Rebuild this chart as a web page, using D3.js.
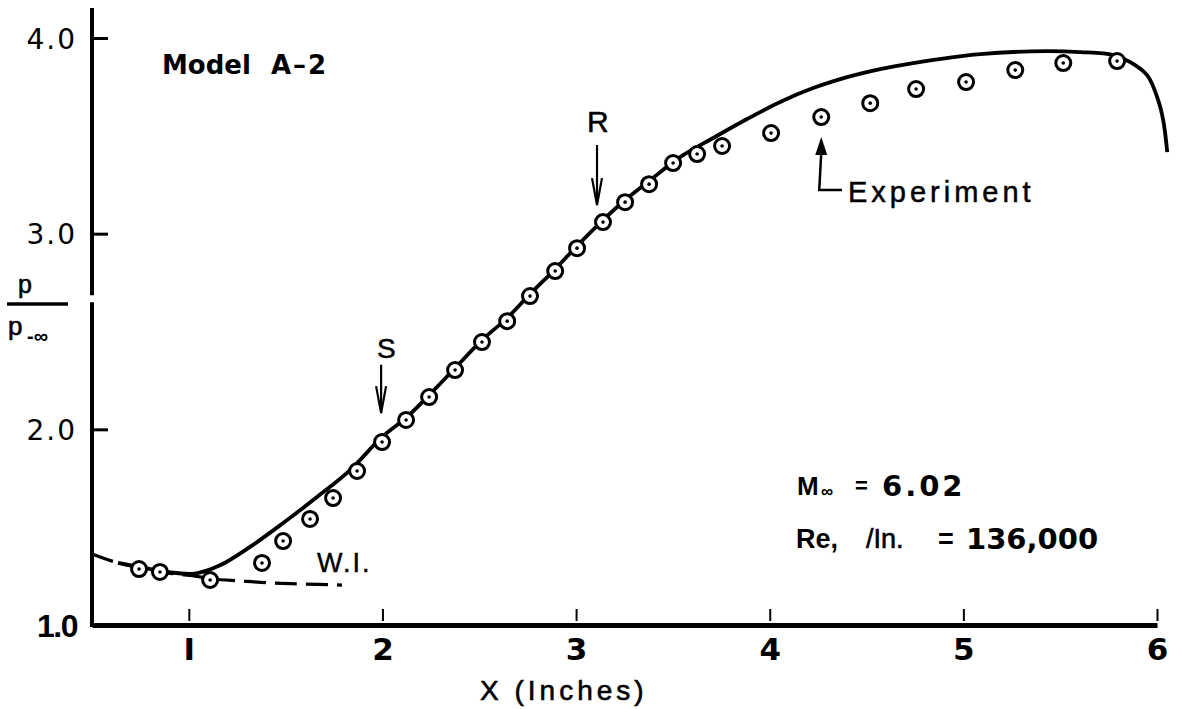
<!DOCTYPE html>
<html>
<head>
<meta charset="utf-8">
<script src="https://cdn.jsdelivr.net/npm/d3@7"></script>
<style>
  body { margin: 0; background: #fff; }
  svg text { fill: #000; }
</style>
</head>
<body>
<div id="chart"></div>
<script>
// experiment points (x in inches, p/p-inf)
var expX = [0.743, 0.851, 1.110, 1.378, 1.487, 1.626, 1.745, 1.869, 1.998, 2.122,
            2.241, 2.375, 2.514, 2.644, 2.762, 2.892, 3.005, 3.139, 3.253, 3.377,
            3.501, 3.625, 3.754, 4.007, 4.266, 4.519, 4.756, 5.014, 5.268, 5.516, 5.794];
var expY = [1.286, 1.271, 1.230, 1.317, 1.429, 1.542, 1.649, 1.787, 1.935, 2.048,
            2.165, 2.303, 2.446, 2.553, 2.681, 2.809, 2.926, 3.059, 3.161, 3.253,
            3.361, 3.407, 3.448, 3.514, 3.596, 3.667, 3.739, 3.775, 3.836, 3.872, 3.882];

// theory (solid curve)
var theoryX = [0.634, 0.748, 0.887, 1.032, 1.161, 1.316, 1.487, 1.662, 1.833,
               1.998, 2.127, 2.241, 2.375, 2.514, 2.644, 2.762, 2.892, 3.005, 3.139,
               3.253, 3.377, 3.537, 3.708, 3.883, 4.054, 4.224, 4.400, 4.570, 4.741,
               5.087, 5.433, 5.603, 5.774, 5.862, 5.949, 6.006, 6.032, 6.053];
var theoryY = [1.317, 1.296, 1.271, 1.263, 1.305, 1.399, 1.521, 1.654, 1.792,
               1.961, 2.063, 2.175, 2.313, 2.456, 2.569, 2.691, 2.819, 2.937, 3.069,
               3.172, 3.269, 3.391, 3.489, 3.586, 3.673, 3.744, 3.800, 3.841, 3.872,
               3.918, 3.933, 3.928, 3.913, 3.877, 3.810, 3.683, 3.580, 3.417];

// W.I. (dashed curve)
var wiX = [0.500, 0.619, 0.748, 0.887, 1.032, 1.125, 1.264, 1.419, 1.574, 1.791];
var wiY = [1.363, 1.322, 1.291, 1.266, 1.250, 1.235, 1.225, 1.215, 1.210, 1.204];

var xTicks = [1, 2, 3, 4, 5, 6];
var xTickLabels = ["I", "2", "3", "4", "5", "6"];
var yTicks = [1, 2, 3, 4];
var yTickLabels = ["1.0", "2.0", "3.0", "4.0"];

var width = 1184, height = 709;

var svg = d3.select("#chart").append("svg")
    .attr("width", width)
    .attr("height", height);

var x = d3.scaleLinear().domain([0.5, 6]).range([92, 1157]);
var y = d3.scaleLinear().domain([1, 4]).range([625, 38]);

var sans = "'Liberation Sans', Arial, sans-serif";
var wide = "'DejaVu Sans', sans-serif";

// x axis
var xAxis = svg.append("g")
    .attr("transform", "translate(0," + y(1) + ")")
    .call(d3.axisBottom(x)
      .tickValues(xTicks)
      .tickSizeInner(-16)
      .tickSizeOuter(0)
      .tickFormat(function(d, i) { return xTickLabels[i]; }));

xAxis.select(".domain").attr("stroke", "#000").attr("stroke-width", 5);
xAxis.selectAll(".tick line")
    .attr("y1", -4)
    .attr("stroke", "#000")
    .attr("stroke-width", 2);
xAxis.selectAll(".tick text")
    .attr("y", 35)
    .attr("dy", 0)
    .style("font-family", wide)
    .style("font-weight", "bold")
    .style("font-size", "31px");

// y axis (domain drawn by hand, it has a break near the label)
var yAxis = svg.append("g")
    .attr("transform", "translate(" + x(0.5) + ",0)")
    .call(d3.axisLeft(y)
      .tickValues(yTicks)
      .tickSizeInner(-16)
      .tickSizeOuter(0)
      .tickPadding(15)
      .tickFormat(function(d, i) { return yTickLabels[i]; }));

yAxis.select(".domain").remove();
yAxis.selectAll(".tick line")
    .attr("stroke", "#000")
    .attr("stroke-width", 3)
    .attr("display", function(d) { return d === 1 ? "none" : null; });
yAxis.selectAll(".tick text")
    .attr("dy", "0.36em")
    .style("font-family", function(d) { return d === 1 ? sans : wide; })
    .style("font-weight", function(d) { return d === 1 ? "bold" : "normal"; })
    .style("font-size", function(d) { return d === 1 ? "32px" : "28px"; })
    .style("letter-spacing", function(d) { return d === 1 ? "-1.5px" : "2px"; });

[[1, 2.65], [2.696, 4.153]].forEach(function(seg) {
  yAxis.append("line")
      .attr("x1", 0).attr("x2", 0)
      .attr("y1", y(seg[0]) + 2).attr("y2", y(seg[1]))
      .attr("stroke", "#000")
      .attr("stroke-width", 4);
});

// curves
var theory = d3.zip(theoryX, theoryY);
var wi = d3.zip(wiX, wiY);

var line = d3.line()
    .x(function(d) { return x(d[0]); })
    .y(function(d) { return y(d[1]); })
    .curve(d3.curveCatmullRom.alpha(0.5));

svg.append("path")
    .datum(wi)
    .attr("d", line)
    .attr("fill", "none")
    .attr("stroke", "#000")
    .attr("stroke-width", 3.2)
    .attr("stroke-dasharray", "22,9");

svg.append("path")
    .datum(theory)
    .attr("d", line)
    .attr("fill", "none")
    .attr("stroke", "#000")
    .attr("stroke-width", 3.8);

// experiment circles
var pts = svg.append("g").selectAll("g")
    .data(d3.zip(expX, expY))
    .enter().append("g")
    .attr("transform", function(d) { return "translate(" + x(d[0]) + "," + y(d[1]) + ")"; });

pts.append("circle")
    .attr("r", 7.5)
    .attr("fill", "#fff")
    .attr("stroke", "#000")
    .attr("stroke-width", 3);

pts.append("circle")
    .attr("r", 1.8)
    .attr("fill", "#000");

// y label p / p-inf
svg.append("text").attr("x", 18).attr("y", 293)
    .style("font-family", sans).style("font-size", "25px").style("stroke", "#000").style("stroke-width", 0.6)
    .text("p");
svg.append("line")
    .attr("x1", 7).attr("x2", 68).attr("y1", 304).attr("y2", 304)
    .attr("stroke", "#000").attr("stroke-width", 3.5);
svg.append("text").attr("x", 8).attr("y", 335)
    .style("font-family", sans).style("font-size", "26px").style("stroke", "#000").style("stroke-width", 0.6)
    .text("p");
svg.append("text").attr("x", 27).attr("y", 343)
    .style("font-family", sans).style("font-weight", "bold").style("font-size", "20px").text("-∞");

// title
svg.append("text").attr("x", 162).attr("y", 74)
    .style("font-family", wide).style("font-weight", "bold").style("font-size", "26px")
    .text("Model")
  .append("tspan").attr("dx", 20).style("letter-spacing", "2px").text("A–2");

// S and R arrows
function downArrow(xv, y0, y1) {
  var g = svg.append("g").attr("stroke", "#000").attr("fill", "none").attr("stroke-width", 2.2);
  g.append("line").attr("x1", x(xv)).attr("x2", x(xv)).attr("y1", y(y0)).attr("y2", y(y1));
  g.append("path")
      .attr("d", "M" + (x(xv) - 5) + "," + (y(y1) - 27) + "L" + x(xv) + "," + y(y1) +
                 "L" + (x(xv) + 5) + "," + (y(y1) - 27));
}

svg.append("text").attr("x", 377).attr("y", 358)
    .style("font-family", sans).style("font-size", "28px").style("stroke", "#000").style("stroke-width", 0.5)
    .text("S");
downArrow(1.993, 2.33, 2.083);

svg.append("text").attr("x", 587).attr("y", 132)
    .style("font-family", sans).style("font-size", "30px").style("stroke", "#000").style("stroke-width", 0.5)
    .text("R");
downArrow(3.108, 3.453, 3.146);

// Experiment leader
var ex = x(expX[24]);
svg.append("path")
    .attr("d", "M" + ex + "," + (y(expY[24]) + 20) + "L" + (ex - 6) + "," + (y(expY[24]) + 38) +
               "L" + (ex + 6) + "," + (y(expY[24]) + 38) + "Z")
    .attr("fill", "#000");
svg.append("path")
    .attr("d", "M" + ex + "," + (y(expY[24]) + 36) + "L" + (ex - 2) + ",190L842,190")
    .attr("fill", "none").attr("stroke", "#000").attr("stroke-width", 2.5);
svg.append("text").attr("x", 848).attr("y", 202)
    .style("font-family", sans).style("font-size", "29px").style("letter-spacing", "4px")
    .style("stroke", "#000").style("stroke-width", 0.5)
    .text("Experiment");

// W.I.
svg.append("text").attr("x", 317).attr("y", 572)
    .style("font-family", sans).style("font-size", "27px").style("letter-spacing", "2px")
    .style("stroke", "#000").style("stroke-width", 0.4)
    .text("W.I.");

// flow conditions
svg.append("text").attr("x", 797).attr("y", 495)
    .style("font-family", sans).style("font-weight", "bold").style("font-size", "26px").text("M");
svg.append("text").attr("x", 821).attr("y", 497)
    .style("font-family", sans).style("font-weight", "bold").style("font-size", "17px").text("∞");
svg.append("text").attr("x", 855).attr("y", 493)
    .style("font-family", sans).style("font-weight", "bold").style("font-size", "22px").text("=");
svg.append("text").attr("x", 882).attr("y", 496)
    .style("font-family", wide).style("font-weight", "bold").style("font-size", "29px")
    .style("letter-spacing", "3px").text("6.02");

svg.append("text").attr("x", 796).attr("y", 548)
    .style("font-family", sans).style("font-weight", "bold").style("font-size", "27px").text("Re,");
svg.append("text").attr("x", 866).attr("y", 548)
    .style("font-family", sans).style("font-size", "27px").style("stroke", "#000").style("stroke-width", 0.6)
    .text("/In.");
svg.append("text").attr("x", 938).attr("y", 548)
    .style("font-family", sans).style("font-weight", "bold").style("font-size", "27px").text("=");
svg.append("text").attr("x", 966).attr("y", 549)
    .style("font-family", wide).style("font-weight", "bold").style("font-size", "29px").text("136,000");

// x label
svg.append("text").attr("x", 480).attr("y", 700)
    .style("font-family", sans).style("font-size", "28px").style("letter-spacing", "4px")
    .style("stroke", "#000").style("stroke-width", 0.6)
    .text("X (Inches)");
</script>
</body>
</html>
